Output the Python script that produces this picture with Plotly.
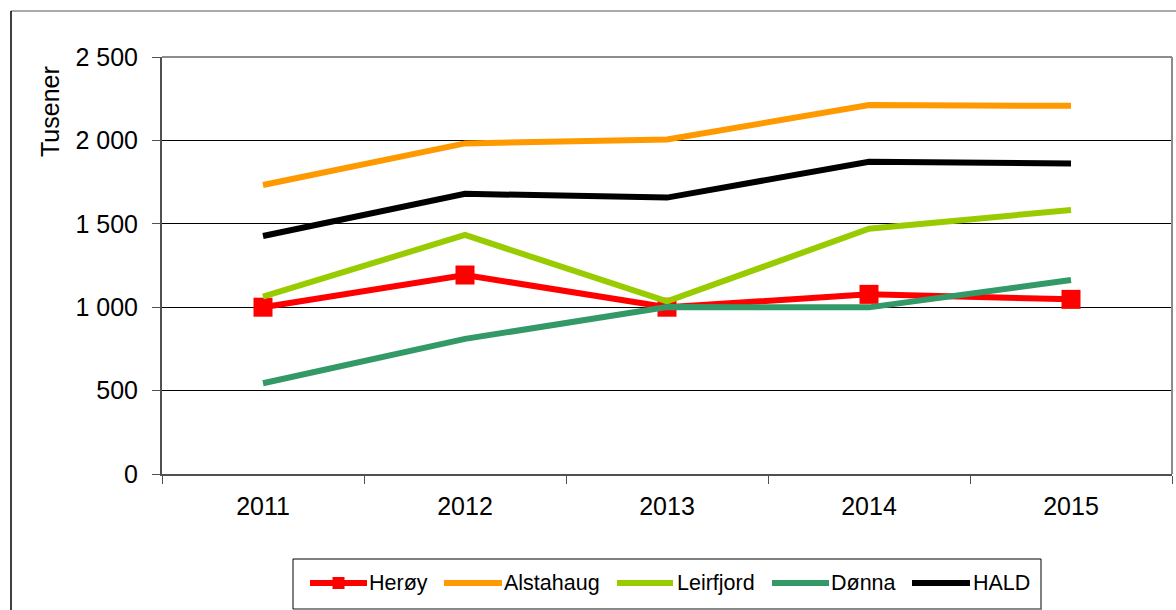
import plotly.graph_objects as go

years = ["2011", "2012", "2013", "2014", "2015"]
heroy = [1000, 1193, 1000, 1077, 1047]
alstahaug = [1733, 1982, 2005, 2212, 2207]
leirfjord = [1063, 1433, 1035, 1470, 1583]
donna = [544, 810, 1001, 999, 1163]
hald = [1427, 1680, 1657, 1872, 1862]

y_tickvals = [0, 500, 1000, 1500, 2000, 2500]
y_ticktext = ["0", "500", "1 000", "1 500", "2 000", "2 500"]

names = ["Herøy", "Alstahaug", "Leirfjord", "Dønna", "HALD"]
colors = ["#FF0000", "#FF9900", "#99CC00", "#339966", "#000000"]
values = [heroy, alstahaug, leirfjord, donna, hald]
has_marker = [True, False, False, False, False]

fig = go.Figure()
for name, vals, color, marker in zip(names, values, colors, has_marker):
    fig.add_trace(go.Scatter(
        x=years, y=vals, name=name,
        mode="lines+markers" if marker else "lines",
        line=dict(color=color, width=6),
        marker=dict(symbol="square", size=19, color=color) if marker else None,
        showlegend=False,
    ))

W, H = 1176, 610
L, R, T, B = 162, 1172, 57, 474
pw, ph = R - L, B - T


def px(x):
    return (x - L) / pw


def py(y):
    return (B - y) / ph


shapes = [
    dict(type="line", xref="paper", yref="paper", x0=0, x1=1, y0=1, y1=1,
         line=dict(color="#8c8c8c", width=2), layer="above"),
    dict(type="line", xref="paper", yref="paper", x0=1, x1=1, y0=0, y1=1,
         line=dict(color="#8c8c8c", width=2), layer="above"),
    dict(type="line", xref="paper", yref="paper", x0=px(11), x1=px(1180), y0=py(11), y1=py(11),
         line=dict(color="#8c8c8c", width=1.5)),
    dict(type="line", xref="paper", yref="paper", x0=px(11), x1=px(11), y0=py(11), y1=py(620),
         line=dict(color="black", width=1.5)),
    # legend box
    dict(type="rect", xref="paper", yref="paper", x0=px(293), x1=px(1041), y0=py(609), y1=py(559),
         line=dict(color="black", width=1), fillcolor="white"),
    dict(type="line", xref="paper", yref="paper", x0=px(294), x1=px(1042), y0=py(609.5), y1=py(609.5),
         line=dict(color="#8c8c8c", width=2)),
]
annotations = [
    dict(text="Tusener", xref="paper", yref="paper", x=px(50), y=py(112),
         xanchor="center", yanchor="middle", textangle=-90, showarrow=False,
         font=dict(size=25)),
]

# manual legend (positions in screen pixels)
leg_line = [(310, 367), (444, 502), (617, 673), (772, 829), (912, 970)]
leg_text = [369, 504, 677, 831, 973]
leg_y = 583
for (a, b), tx, name, color, marker in zip(leg_line, leg_text, names, colors, has_marker):
    shapes.append(dict(type="line", xref="paper", yref="paper", x0=px(a), x1=px(b),
                       y0=py(leg_y), y1=py(leg_y), line=dict(color=color, width=6)))
    if marker:
        c = (a + b) / 2
        shapes.append(dict(type="rect", xref="paper", yref="paper", x0=px(c - 6), x1=px(c + 6),
                           y0=py(leg_y + 6), y1=py(leg_y - 6), line=dict(width=0), fillcolor=color))
    annotations.append(dict(text=name, xref="paper", yref="paper", x=px(tx), y=py(leg_y),
                            xanchor="left", yanchor="middle", showarrow=False,
                            font=dict(size=21.5), xshift=-2))

fig.update_layout(
    width=W, height=H,
    margin=dict(l=L, r=W - R, t=T, b=H - B),
    paper_bgcolor="white", plot_bgcolor="white",
    font=dict(family="Liberation Sans, Arial, sans-serif", size=25, color="black"),
    showlegend=False,
    xaxis=dict(
        type="category", tickson="boundaries", showgrid=False,
        showline=True, linecolor="#505050", linewidth=2,
        ticks="outside", ticklen=8, tickcolor="#505050",
        ticklabelstandoff=9, range=[-0.5, 4.5],
    ),
    yaxis=dict(
        range=[0, 2500], tickvals=y_tickvals, ticktext=y_ticktext,
        showgrid=True, gridcolor="black", gridwidth=1,
        showline=True, linecolor="#505050", linewidth=2,
        ticks="outside", ticklen=8, tickcolor="#505050",
        ticklabelstandoff=9, zeroline=False,
    ),
    shapes=shapes,
    annotations=annotations,
)

fig.write_html("out.html", config={"displayModeBar": False},
               post_script="document.body.style.margin='0';document.body.style.overflow='hidden';")
